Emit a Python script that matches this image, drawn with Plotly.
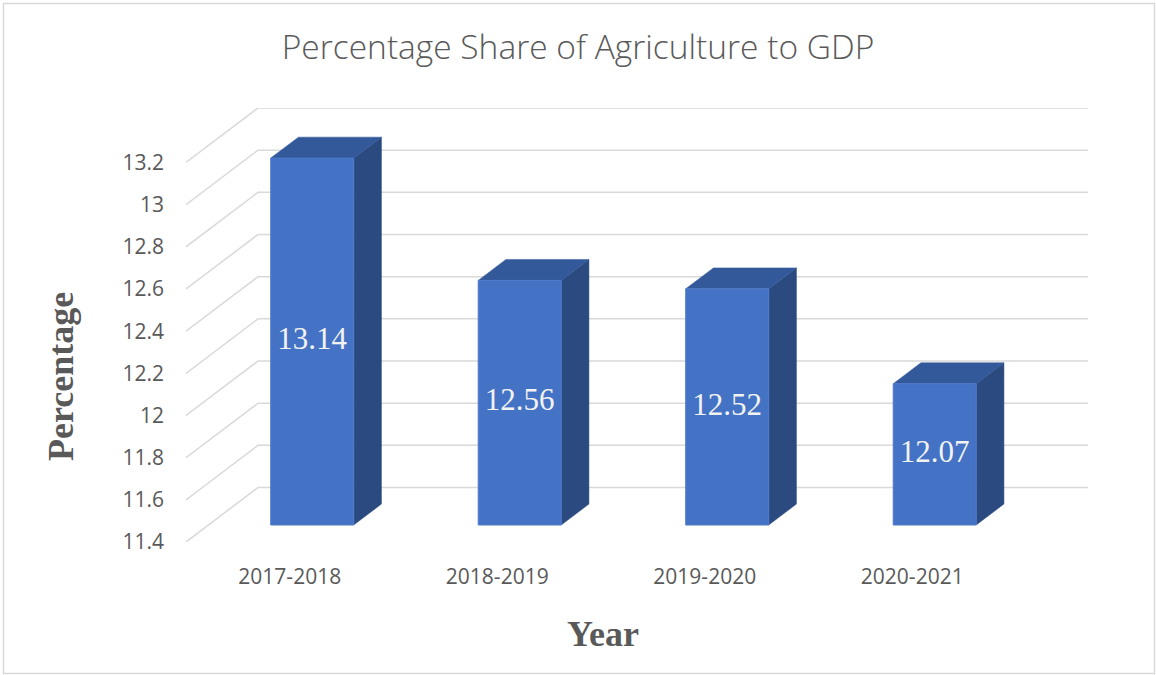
import plotly.graph_objects as go

# ---- data ----
categories = ["2017-2018", "2018-2019", "2019-2020", "2020-2021"]
values = [13.14, 12.56, 12.52, 12.07]
value_labels = ["13.14", "12.56", "12.52", "12.07"]
y_ticks = [11.4, 11.6, 11.8, 12.0, 12.2, 12.4, 12.6, 12.8, 13.0, 13.2]
y_tick_text = ["11.4", "11.6", "11.8", "12", "12.2", "12.4", "12.6", "12.8", "13", "13.2"]

# ---- layout geometry (pixels) ----
W, H = 1156, 675
L, R, T, B = 186, 1088, 108, 542          # plot area
CAT_PX = 207.5                            # px per category on front plane
DEPTH_X_PX, DEPTH_Y_PX = 72.0, 54.5       # oblique depth offset
VAL_PX = 42.2 / 0.2                       # px per value unit

ddx = DEPTH_X_PX / CAT_PX                 # depth in category units
ddy = DEPTH_Y_PX / VAL_PX                 # depth in value units
ymin = y_ticks[0]
xmin = -0.5
xmax = xmin + ddx + len(categories)
ymax = y_ticks[-1] + ddy

F1, F2 = 0.312, 0.697                     # bar front/back depth fractions
HALF = 0.2                                # half bar width (category units)

FRONT = "#4472C4"
TOP = "#33599B"
SIDE = "#2B4A80"
GRID = "#D9D9D9"
TXT = "#595959"

fig = go.Figure()

# 3D gridlines: side wall diagonal + back wall horizontal
for v in y_ticks:
    fig.add_trace(go.Scatter(
        x=[xmin, xmin + ddx, xmax], y=[v, v + ddy, v + ddy],
        mode="lines", line=dict(color=GRID, width=1.5),
        hoverinfo="skip", showlegend=False))

# bars
for i, (v, lab) in enumerate(zip(values, value_labels)):
    xl, xr = i - HALF, i + HALF
    a1x, a1y = F1 * ddx, F1 * ddy
    a2x, a2y = F2 * ddx, F2 * ddy
    # side face
    fig.add_trace(go.Scatter(
        x=[xr + a1x, xr + a2x, xr + a2x, xr + a1x, xr + a1x],
        y=[ymin + a1y, ymin + a2y, v + a2y, v + a1y, ymin + a1y],
        mode="lines", fill="toself", fillcolor=SIDE,
        line=dict(color=SIDE, width=0.5), hoverinfo="skip", showlegend=False))
    # top face
    fig.add_trace(go.Scatter(
        x=[xl + a1x, xr + a1x, xr + a2x, xl + a2x, xl + a1x],
        y=[v + a1y, v + a1y, v + a2y, v + a2y, v + a1y],
        mode="lines", fill="toself", fillcolor=TOP,
        line=dict(color=TOP, width=0.5), hoverinfo="skip", showlegend=False))
    # front face
    fig.add_trace(go.Scatter(
        x=[xl + a1x, xr + a1x, xr + a1x, xl + a1x, xl + a1x],
        y=[ymin + a1y, ymin + a1y, v + a1y, v + a1y, ymin + a1y],
        mode="lines", fill="toself", fillcolor=FRONT,
        line=dict(color="#4F7BCB", width=1), hoverinfo="skip", showlegend=False))
    # value label
    fig.add_trace(go.Scatter(
        x=[i + a1x], y=[(ymin + v) / 2 + a1y], mode="text", text=[lab],
        textposition="middle center",
        textfont=dict(family="Liberation Serif, Times New Roman, serif", size=31, color="#F2F2F2"),
        hoverinfo="skip", showlegend=False))

def px_x(p):
    return (p - L) / (R - L)

def px_y(p):
    return (B - p) / (B - T)

fig.update_layout(
    width=W, height=H, autosize=False,
    margin=dict(l=L, r=W - R, t=T, b=H - B),
    paper_bgcolor="white", plot_bgcolor="white",
    title=dict(text="Percentage Share of Agriculture to GDP",
               x=0.5, xref="container", xanchor="center",
               y=1 - 47 / H, yref="container", yanchor="middle",
               font=dict(family="Open Sans, sans-serif", size=33.5, color=TXT, weight=300)),
    xaxis=dict(range=[xmin, xmax], tickvals=list(range(len(categories))), ticktext=categories,
               showgrid=False, zeroline=False, showline=False, ticks="",
               ticklabelstandoff=20,
               tickfont=dict(family="Open Sans, sans-serif", size=21, color=TXT)),
    yaxis=dict(range=[ymin, ymax], tickvals=y_ticks, ticktext=y_tick_text,
               showgrid=False, zeroline=False, showline=False, ticks="",
               ticklabelstandoff=21,
               tickfont=dict(family="Open Sans, sans-serif", size=21, color=TXT)),
    annotations=[
        dict(text="<b>Percentage</b>", xref="paper", yref="paper",
             x=px_x(61), y=px_y(377), xanchor="center", yanchor="middle",
             textangle=-90, showarrow=False,
             font=dict(family="Liberation Serif, Times New Roman, serif", size=36, color=TXT)),
        dict(text="<b>Year</b>", xref="paper", yref="paper",
             x=px_x(603), y=px_y(634), xanchor="center", yanchor="middle",
             showarrow=False,
             font=dict(family="Liberation Serif, Times New Roman, serif", size=36, color=TXT)),
    ],
    shapes=[dict(type="rect", xref="paper", yref="paper",
                 x0=px_x(3.5), x1=px_x(1154.5), y0=px_y(673.5), y1=px_y(3.5),
                 line=dict(color=GRID, width=1.5), fillcolor="rgba(0,0,0,0)", layer="below")],
    hovermode=False,
)

fig.write_html("out.html",
               config={"displayModeBar": False, "staticPlot": True},
               post_script="document.body.style.margin='0';document.body.style.overflow='hidden';")
